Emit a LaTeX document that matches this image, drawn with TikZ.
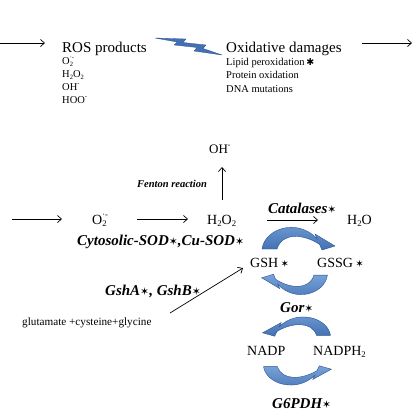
\documentclass[tikz,border=0pt]{standalone}
\usepackage{fontspec}
\usepackage{graphicx}
\setmainfont{Liberation Serif}
\newfontfamily\djv{DejaVu Sans}
\usetikzlibrary{arrows.meta}
\definecolor{bfill}{RGB}{66,112,178}
\definecolor{blite}{RGB}{120,163,218}
\definecolor{bdark}{RGB}{45,82,140}
\newcommand\lo[1]{\raisebox{-0.45ex}{\scalebox{0.62}{#1}}}
\newcommand\hi[1]{\raisebox{0.95ex}{\scalebox{0.62}{#1}}}
\newcommand\sst{{\djv\scalebox{0.72}{✶}}}
\newcommand\hst{{\djv\scalebox{0.9}{✱}}}
\begin{document}
\begin{tikzpicture}[x=1pt,y=-1pt,
  txt/.style={inner sep=0pt,anchor=base west},
  tbig/.style={font=\fontsize{15}{17}\selectfont},
  tros/.style={font=\fontsize{10.5}{12}\selectfont},
  tlist/.style={font=\fontsize{10.5}{12}\selectfont},
  tmid/.style={font=\fontsize{14}{16}\selectfont},
  tlab/.style={font=\fontsize{15}{17}\selectfont\bfseries\itshape},
  tfen/.style={font=\fontsize{10.5}{12}\selectfont\bfseries\itshape},
  tglu/.style={font=\fontsize{11.2}{13}\selectfont},
  arr/.style={-{Straight Barb[length=4pt,width=7pt]},line width=0.7pt},
  carc/.pic={\shade[top color=blite,bottom color=bfill,draw=bdark,line width=0.4pt]
    (-36,11) .. controls (-33,-10) and (0,-20) .. (19.1,0.8) -- (17,-4) -- (37,8)
    -- (24,12) -- (21.55,6.4) .. controls (6,-4) and (-16,-6) .. (-21,11) -- cycle;}
]
\fill[white] (0,0) rectangle (415,415);
\useasboundingbox (0,0) rectangle (415,415);

% top row
\node[txt,tbig] (ros) at (62,52) {ROS products};
\node[txt,tros] (r1) at (62,64) {O\rlap{\lo{2}}\hi{·-}};
\node[txt,tros] (r2) at (62,77) {H\lo{2}O\lo{2}};
\node[txt,tros] (r3) at (62,90) {OH\hi{-}};
\node[txt,tros] (r4) at (62,103) {HOO\hi{-}};
\node[txt,tbig] (ox) at (226,52) {Oxidative damages};
\node[txt,tlist] (d1) at (226,65) {Lipid peroxidation\,\hst};
\node[txt,tlist] (d2) at (226,78) {Protein oxidation};
\node[txt,tlist] (d3) at (226,92) {DNA mutations};

\fill[bfill,draw=bdark,line width=0.3pt] (155,38) -- (186,39) -- (183,42.5) -- (206,45) -- (203,48.5)
  -- (222,55) -- (194,51) -- (197,47.5) -- (174,45) -- (177,42) -- cycle;

% middle
\node[txt,font=\fontsize{13}{15}\selectfont] (oh) at (209,153) {OH\hi{-}};
\node[txt,tfen] (fen) at (137,187) {Fenton reaction};
\node[txt,tmid] (o2) at (92,224) {O\rlap{\lo{2}}\hi{·-}};
\node[txt,tmid] (h2o2) at (207,224) {H\lo{2}O\lo{2}};
\node[txt,tlab] (sod) at (77,245) {Cytosolic-SOD\sst,Cu-SOD\sst};
\node[txt,tlab] (cat) at (268,213) {Catalases\sst};
\node[txt,tmid] (h2o) at (347,224) {H\lo{2}O};
\node[txt,tmid] (gsh) at (250,267) {GSH\,\sst};
\node[txt,tmid] (gssg) at (317,267) {GSSG\,\sst};
\node[txt,tlab] (gsha) at (105,295) {GshA\sst, GshB\sst};
\node[txt,tglu] (glu) at (22,325) {glutamate +cysteine+glycine};
\node[txt,tlab] (gor) at (280,312) {Gor\sst};
\node[txt,tmid] (nadp) at (247,355) {NADP};
\node[txt,tmid] (nadph) at (313,355) {NADPH\lo{2}};
\node[txt,tlab] (g6) at (272,408) {G6PDH\sst};

% arrows
\coordinate (a1s) at (0,43); \coordinate (a1e) at (45,43);
\coordinate (a2s) at (362,43); \coordinate (a2e) at (412,43);
\coordinate (a3s) at (12,219); \coordinate (a3e) at (62,219);
\coordinate (a4s) at (137,219); \coordinate (a4e) at (188,219);
\coordinate (a5s) at (267,220); \coordinate (a5e) at (318,220);
\coordinate (a6s) at (222,200); \coordinate (a6e) at (222,167);
\coordinate (a7s) at (170,313); \coordinate (a7e) at (243,268);
\draw[arr] (a1s) -- (a1e);
\draw[arr] (a2s) -- (a2e);
\draw[arr] (a3s) -- (a3e);
\draw[arr] (a4s) -- (a4e);
\draw[arr] (a5s) -- (a5e);
\draw[arr] (a6s) -- (a6e);
\draw[arr] (a7s) -- (a7e);

% curved blue arrows
\pic at (298,238) {carc};
\pic[rotate=180,scale=0.9] at (295,285) {carc};
\pic[xscale=-0.93,yscale=0.85] at (297,326) {carc};
\pic[xscale=0.93,yscale=-0.85] at (297,376) {carc};
\end{tikzpicture}
\end{document}
